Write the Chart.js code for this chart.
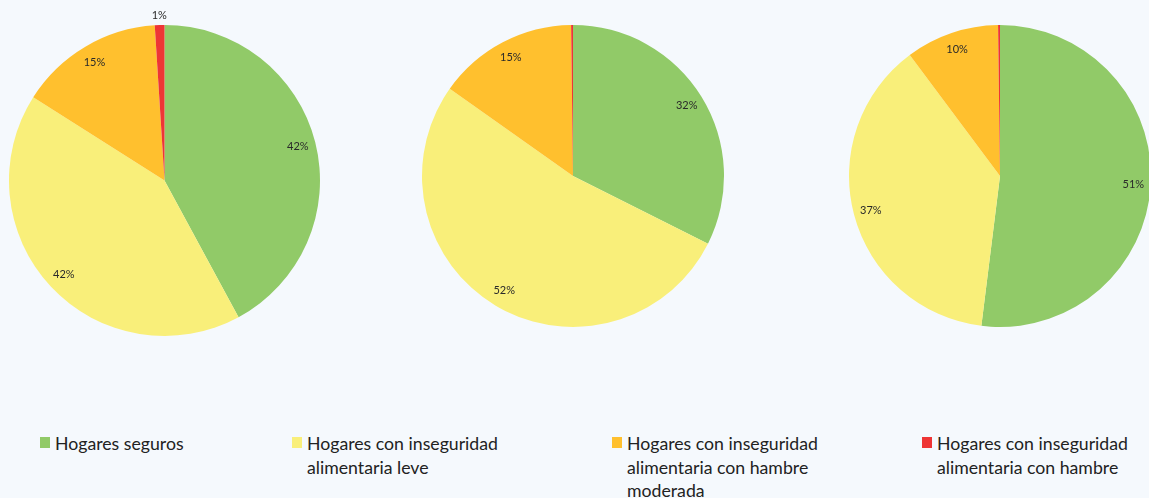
<!DOCTYPE html>
<html>
<head>
<meta charset="utf-8">
<script src="https://cdn.jsdelivr.net/npm/chart.js@4.4.1/dist/chart.umd.min.js"></script>
<style>
  html, body { margin: 0; padding: 0; background: #F5F9FD; overflow: hidden; }
  #wrap { position: relative; width: 1149px; height: 498px; background: #F5F9FD; }
  canvas { position: absolute; }
  .leg { position: absolute; top: 432px; font-family: Lato, "Open Sans", sans-serif; font-size: 17.7px; line-height: 23.5px; color: #222222; }
  .leg .sw { position: absolute; left: 0; top: 5px; width: 10px; height: 11px; }
  .leg .tx { position: absolute; left: 15px; top: 0; width: 212px; }
</style>
</head>
<body>
<div id="wrap">
  <canvas id="c1" width="340" height="360" style="left:0px;top:0px"></canvas>
  <canvas id="c2" width="330" height="340" style="left:410px;top:0px"></canvas>
  <canvas id="c3" width="320" height="340" style="left:840px;top:0px"></canvas>
</div>
<script>
const categories = [
  'Hogares seguros',
  'Hogares con inseguridad alimentaria leve',
  'Hogares con inseguridad alimentaria con hambre moderada',
  'Hogares con inseguridad alimentaria con hambre'
];
const pie1Values = [42.1, 41.9, 15.0, 1.0];
const pie2Values = [32.4, 52.4, 15.0, 0.2];
const pie3Values = [51.49, 37.49, 9.9, 0.2];
const sliceColors = ['#91CA68', '#F9EF7A', '#FFC02E', '#EE3535'];
const legendX = [40, 292, 612, 922];

const labelPlugin = {
  id: 'sliceLabels',
  afterDatasetsDraw(chart) {
    const ctx = chart.ctx;
    const meta = chart.getDatasetMeta(0);
    const data = chart.data.datasets[0].data;
    const total = data.reduce((a, b) => a + b, 0);
    ctx.save();
    ctx.font = '11px Lato, "Open Sans", sans-serif';
    ctx.fillStyle = '#2a2a2a';
    ctx.textAlign = 'center';
    ctx.textBaseline = 'middle';
    meta.data.forEach((arc, i) => {
      const v = data[i];
      const r = Math.round(v);
      if (r < 1) return;
      const p = arc.getProps(['x', 'y', 'startAngle', 'endAngle', 'outerRadius'], true);
      const mid = (p.startAngle + p.endAngle) / 2;
      const share = v / total;
      const k = share < 0.04 ? 1.06 : 0.885;
      const x = p.x + Math.cos(mid) * p.outerRadius * k;
      const y = p.y + Math.sin(mid) * p.outerRadius * k;
      ctx.fillText(r + '%', x, y);
    });
    ctx.restore();
  }
};

function makePie(id, values, pad) {
  return new Chart(document.getElementById(id), {
    type: 'pie',
    data: {
      labels: categories,
      datasets: [{
        data: values,
        backgroundColor: sliceColors,
        borderWidth: 0
      }]
    },
    options: {
      responsive: false,
      animation: false,
      layout: { padding: pad },
      plugins: { legend: { display: false }, tooltip: { enabled: false } }
    },
    plugins: [labelPlugin]
  });
}

makePie('c1', pie1Values, { left: 9, top: 25, right: 20, bottom: 24 });
makePie('c2', pie2Values, { left: 12, top: 25, right: 16, bottom: 13 });
makePie('c3', pie3Values, { left: 9, top: 25, right: 9, bottom: 13 });

const wrap = document.getElementById('wrap');
categories.forEach((c, i) => {
  const d = document.createElement('div');
  d.className = 'leg';
  d.style.left = legendX[i] + 'px';
  const sw = document.createElement('div');
  sw.className = 'sw';
  sw.style.background = sliceColors[i];
  const tx = document.createElement('div');
  tx.className = 'tx';
  tx.textContent = c;
  d.appendChild(sw);
  d.appendChild(tx);
  wrap.appendChild(d);
});
</script>
</body>
</html>
